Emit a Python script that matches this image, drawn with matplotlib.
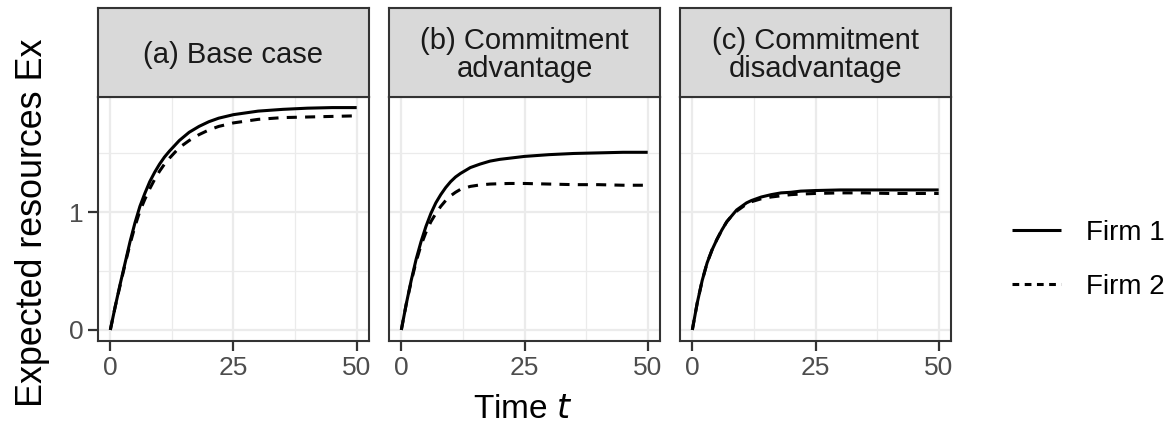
import matplotlib.pyplot as plt
import numpy as np

plt.rcParams["font.family"] = ["Liberation Sans", "DejaVu Sans"]

t = [0, 1, 2, 3, 4, 5, 6, 7, 8, 9, 10, 11, 12, 14, 16, 18, 20, 22, 25, 30, 35, 40, 45, 50]

# (a) base case
a_firm1 = [0, 0.20, 0.39, 0.57, 0.75, 0.91, 1.05, 1.16, 1.26, 1.34, 1.41, 1.47, 1.52, 1.61, 1.68, 1.73,
           1.77, 1.80, 1.83, 1.86, 1.875, 1.885, 1.89, 1.89]
a_firm2 = [0, 0.20, 0.38, 0.56, 0.73, 0.88, 1.01, 1.11, 1.20, 1.28, 1.35, 1.41, 1.46, 1.55, 1.61, 1.66,
           1.70, 1.73, 1.76, 1.79, 1.805, 1.81, 1.815, 1.82]
# (b) commitment advantage
b_firm1 = [0, 0.22, 0.42, 0.60, 0.75, 0.88, 0.99, 1.08, 1.15, 1.21, 1.26, 1.30, 1.33, 1.38, 1.41, 1.435,
           1.45, 1.46, 1.475, 1.49, 1.50, 1.505, 1.51, 1.51]
b_firm2 = [0, 0.22, 0.41, 0.58, 0.72, 0.83, 0.92, 0.99, 1.05, 1.10, 1.14, 1.17, 1.195, 1.22, 1.233, 1.24,
           1.243, 1.245, 1.245, 1.24, 1.235, 1.235, 1.23, 1.23]
# (c) commitment disadvantage
c_firm1 = [0, 0.23, 0.42, 0.57, 0.68, 0.77, 0.85, 0.92, 0.97, 1.02, 1.05, 1.08, 1.10, 1.13, 1.15, 1.165,
           1.17, 1.18, 1.185, 1.19, 1.19, 1.19, 1.19, 1.19]
c_firm2 = [0, 0.23, 0.42, 0.57, 0.68, 0.77, 0.85, 0.92, 0.97, 1.01, 1.04, 1.07, 1.09, 1.115, 1.13, 1.14,
           1.15, 1.155, 1.16, 1.165, 1.165, 1.16, 1.16, 1.16]

titles = ["(a) Base case", "(b) Commitment\nadvantage", "(c) Commitment\ndisadvantage"]
panels = [(a_firm1, a_firm2), (b_firm1, b_firm2), (c_firm1, c_firm2)]
series_labels = ["Firm 1", "Firm 2"]

W, H = 1173, 432
fig = plt.figure(figsize=(W / 100, H / 100), dpi=100)

lefts = [98, 389, 680]
width = 271
top, bottom, strip_top = 97, 341, 7.5
dark = "#333333"
grid = "#EBEBEB"

handles = []
for i, (left, title, (f1, f2)) in enumerate(zip(lefts, titles, panels)):
    ax = fig.add_axes([left / W, 1 - bottom / H, width / W, (bottom - top) / H])
    l1, = ax.plot(t, f1, color="black", lw=2.2, solid_capstyle="butt", solid_joinstyle="round")
    l2, = ax.plot(t, f2, color="black", lw=2.2, linestyle=(0, (3.3, 2.7)))
    handles = [l1, l2]
    ax.set_xlim(-2.5, 52.5)
    ax.set_ylim(-0.094, 1.98)
    ax.set_xticks([0, 25, 50])
    ax.set_xticks([12.5, 37.5], minor=True)
    ax.set_yticks([0, 1])
    ax.set_yticks([0.5, 1.5], minor=True)
    ax.grid(True, which="major", color=grid, lw=1.6)
    ax.grid(True, which="minor", color=grid, lw=0.9)
    ax.set_axisbelow(True)
    ax.tick_params(which="major", length=7, width=1.6, color=dark, labelsize=19,
                   labelcolor="#4D4D4D", pad=3.5)
    ax.tick_params(which="minor", length=0)
    if i > 0:
        ax.tick_params(axis="y", which="major", length=0, labelleft=False)
    for s in ax.spines.values():
        s.set_color(dark)
        s.set_linewidth(1.5)

    sx = fig.add_axes([left / W, 1 - top / H, width / W, (top - strip_top) / H])
    sx.set_facecolor("#D9D9D9")
    sx.set_xticks([])
    sx.set_yticks([])
    for s in sx.spines.values():
        s.set_color(dark)
        s.set_linewidth(1.5)
    sx.text(0.5, 0.47, title, ha="center", va="center", fontsize=21, color="#1A1A1A",
            linespacing=1.0, transform=sx.transAxes)

fig.text(33 / W, 1 - 223 / H, "Expected resources Ex", rotation=90, ha="center", va="center",
         fontsize=25.8)
fig.text(523 / W, 1 - 410 / H, "Time $\\it{t}$", ha="center", va="center", fontsize=24)

leg = fig.legend(handles, series_labels, loc="center left", bbox_to_anchor=(1012 / W, 1 - 260 / H),
                 frameon=False, fontsize=20, handlelength=1.75, handletextpad=0.9,
                 labelspacing=1.0, borderpad=0, borderaxespad=0)
leg.get_lines()[1].set_linestyle((0, (2.2, 1.8)))

fig.savefig("out.png", dpi=100)
